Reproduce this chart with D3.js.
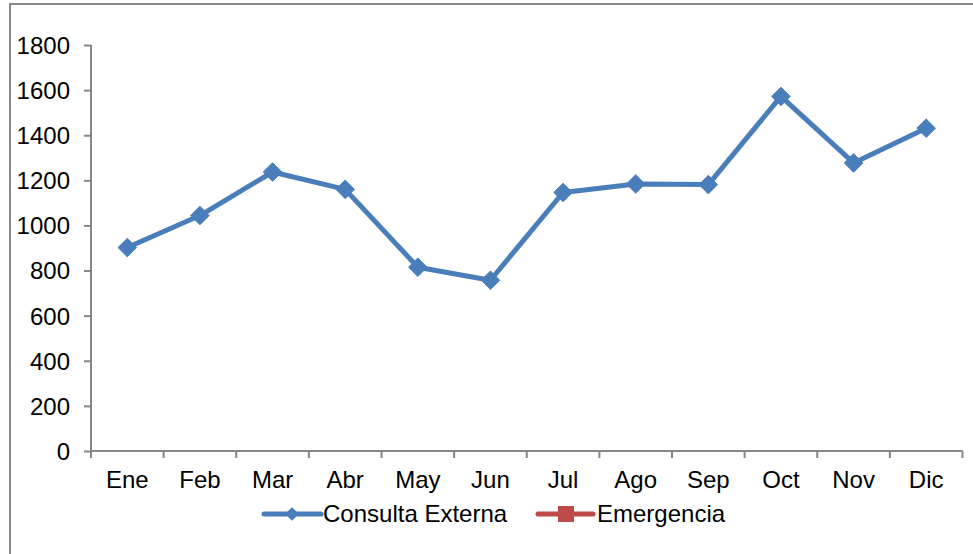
<!DOCTYPE html>
<html><head><meta charset="utf-8">
<script src="https://cdn.jsdelivr.net/npm/d3@7/dist/d3.min.js"></script>
<style>html,body{margin:0;padding:0;background:#fff;}svg{display:block;}</style>
</head><body>
<script>
const months = ["Ene","Feb","Mar","Abr","May","Jun","Jul","Ago","Sep","Oct","Nov","Dic"];
const consultaExterna = [902, 1044, 1237, 1160, 815, 757, 1146, 1184, 1181, 1572, 1277, 1431];
const emergencia = [];
const yTicks = [0,200,400,600,800,1000,1200,1400,1600,1800];
const seriesNames = ["Consulta Externa","Emergencia"];

(function(){
const W = 973, H = 554;
const svg = d3.select("body").append("svg").attr("width", W).attr("height", H);
const font = "'Liberation Sans', Arial, sans-serif";
const fs = "24px";
const axisColor = "#868686";
const blue = "#4A7EBB", red = "#BE4B48";

// outer frame
svg.append("rect").attr("x", 10).attr("y", 4).attr("width", 1000).attr("height", 600)
  .attr("fill", "none").attr("stroke", "#878787").attr("stroke-width", 2);

const mLeft = 91, mRight = 962.5, mTop = 45, mBottom = 451;
const x = d3.scaleBand().domain(months).range([mLeft, mRight]);
const y = d3.scaleLinear().domain([0, 1800]).range([mBottom, mTop]);

// y axis
const yAxis = svg.append("g").attr("transform", `translate(${mLeft},0)`)
  .call(d3.axisLeft(y).tickValues(yTicks).tickSize(7).tickPadding(14).tickFormat(d3.format("d")));
yAxis.select(".domain").attr("stroke", axisColor).attr("stroke-width", 2).attr("d", `M0,${mTop}V${mBottom}`);
yAxis.selectAll(".tick line").attr("stroke", axisColor).attr("stroke-width", 2);
yAxis.selectAll(".tick text").attr("fill", "#000").style("font-family", font).style("font-size", fs).attr("dy", "0.35em");

// x axis with ticks at category boundaries
const xg = svg.append("g").attr("transform", `translate(0,${mBottom})`);
xg.append("path").attr("d", `M${mLeft},0H${mRight}`).attr("stroke", axisColor).attr("stroke-width", 2).attr("fill", "none");
const bounds = months.map(m => x(m)).concat([x(months[months.length-1]) + x.bandwidth()]);
xg.selectAll("line.tk").data(bounds).join("line").attr("class","tk")
  .attr("x1", d => d).attr("x2", d => d).attr("y1", 0).attr("y2", 7)
  .attr("stroke", axisColor).attr("stroke-width", 2);
xg.selectAll("text").data(months).join("text")
  .attr("x", d => x(d) + x.bandwidth()/2).attr("y", 37)
  .attr("text-anchor", "middle").style("font-family", font).style("font-size", fs).attr("fill", "#000")
  .text(d => d);

// line
const line = d3.line().x((d,i) => x(months[i]) + x.bandwidth()/2).y(d => y(d));
svg.append("path").datum(consultaExterna).attr("d", line)
  .attr("fill", "none").attr("stroke", blue).attr("stroke-width", 5).attr("stroke-linejoin", "round");

const diamond = d3.symbol().type(d3.symbolDiamond2).size(220);
svg.selectAll("path.mk").data(consultaExterna).join("path").attr("class", "mk")
  .attr("transform", (d,i) => `translate(${x(months[i]) + x.bandwidth()/2},${y(d)})`)
  .attr("d", diamond).attr("fill", blue).attr("stroke", blue).attr("stroke-width", 1);

// emergencia (no visible data)
if (emergencia.length) svg.append("path").datum(emergencia).attr("d", line).attr("fill","none").attr("stroke", red).attr("stroke-width", 5);

// legend
const ly = 514;
const lg = svg.append("g");
lg.append("line").attr("x1", 264).attr("x2", 321).attr("y1", ly).attr("y2", ly)
  .attr("stroke", blue).attr("stroke-width", 5).attr("stroke-linecap", "round");
lg.append("path").attr("transform", `translate(292,${ly})`).attr("d", d3.symbol().type(d3.symbolDiamond2).size(120)).attr("fill", blue);
lg.append("text").attr("x", 323).attr("y", ly).attr("dy", "0.35em").style("font-family", font).style("font-size", fs).text(seriesNames[0]);

lg.append("line").attr("x1", 538).attr("x2", 593).attr("y1", ly).attr("y2", ly)
  .attr("stroke", red).attr("stroke-width", 5).attr("stroke-linecap", "round");
lg.append("rect").attr("x", 558).attr("y", ly-8).attr("width", 16).attr("height", 16).attr("fill", red);
lg.append("text").attr("x", 597).attr("y", ly).attr("dy", "0.35em").style("font-family", font).style("font-size", fs).text(seriesNames[1]);
})();
</script>
</body></html>
